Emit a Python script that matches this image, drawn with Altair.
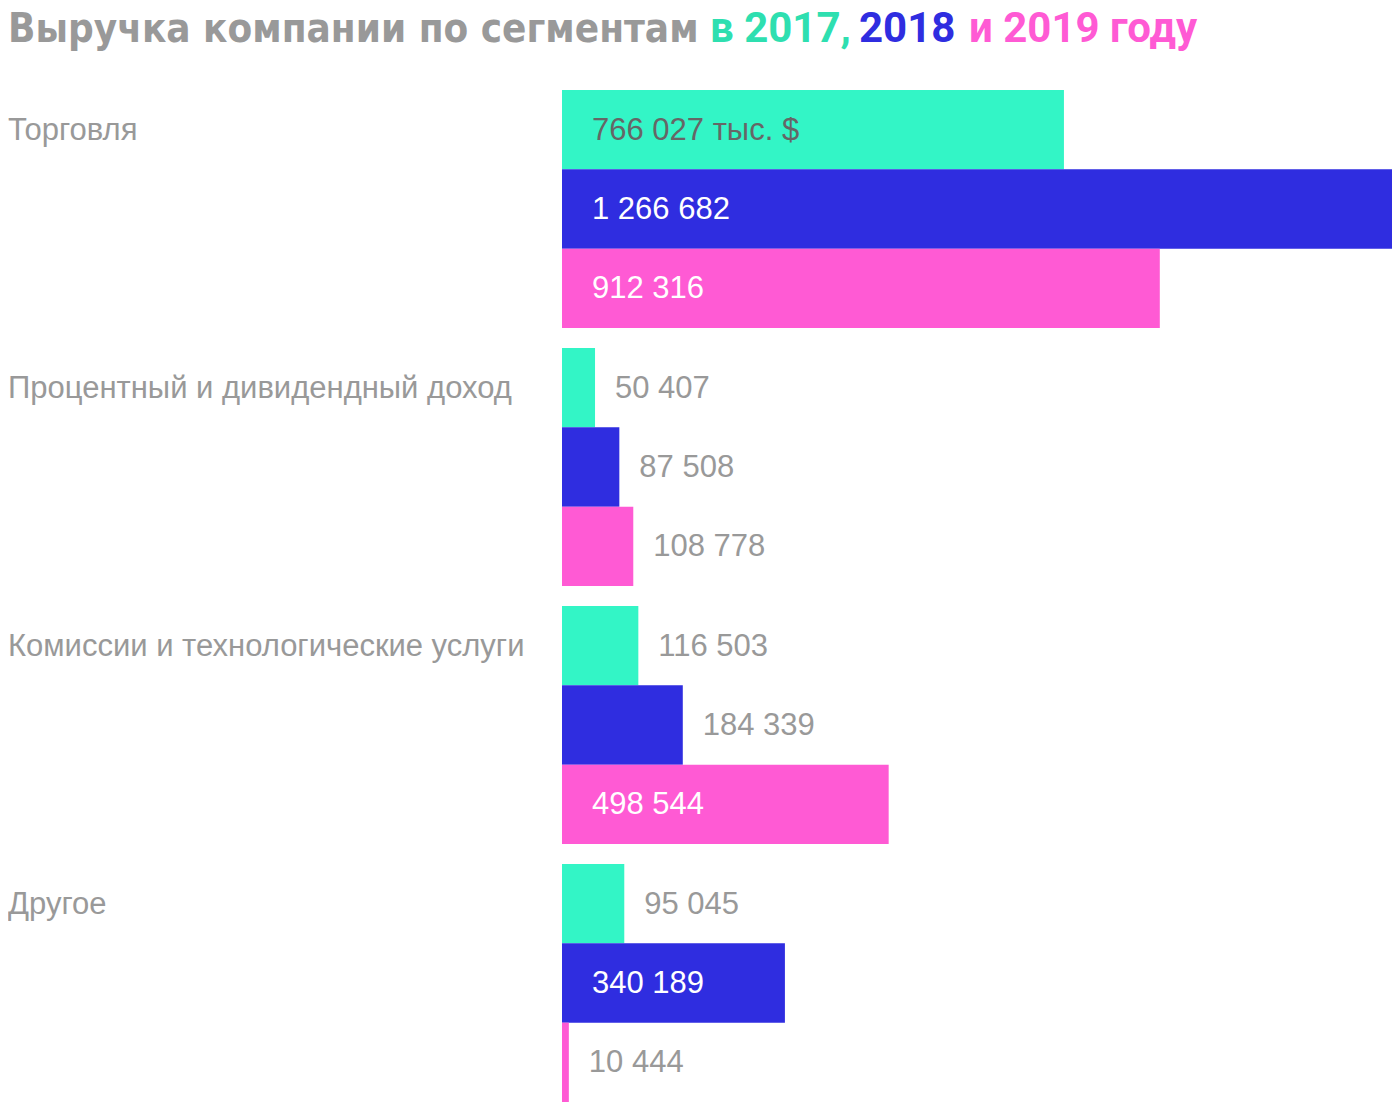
import altair as alt
import pandas as pd

categories = ["Торговля", "Процентный и дивидендный доход",
              "Комиссии и технологические услуги", "Другое"]
years = ["2017", "2018", "2019"]
v2017 = [766027, 50407, 116503, 95045]
v2018 = [1266682, 87508, 184339, 340189]
v2019 = [912316, 108778, 498544, 10444]
colors = ["#33F5C6", "#2F2DE0", "#FF5AD4"]

rows = []
for i, c in enumerate(categories):
    for y, vals in zip(years, [v2017, v2018, v2019]):
        v = vals[i]
        lab = f"{v:,}".replace(",", " ")
        if i == 0 and y == "2017":
            lab += " тыс. $"
        rows.append({"category": c, "year": y, "value": v, "label": lab})
df = pd.DataFrame(rows)
cat_df = pd.DataFrame({"category": categories, "year": ["2017"] * 4})

FONT = "Liberation Sans"
FS = 31
YS = alt.Y("category:N", sort=categories, axis=None,
           scale=alt.Scale(paddingInner=20 / 260, paddingOuter=0))
YO = alt.YOffset("year:N", sort=years, scale=alt.Scale(paddingInner=0, paddingOuter=0))
XS = alt.X("value:Q", axis=None, scale=alt.Scale(domain=[0, 1266682], nice=False, zero=True))

bars = alt.Chart(df).mark_bar(cornerRadius=0).encode(
    x=XS, y=YS, yOffset=YO,
    color=alt.Color("year:N", scale=alt.Scale(domain=years, range=colors), legend=None),
)

inside = alt.Chart(df).transform_filter("datum.value > 300000").transform_calculate(
    lc="datum.year == '2017' ? '#666666' : '#ffffff'"
).mark_text(align="left", baseline="middle", fontSize=FS, font=FONT, dy=1).encode(
    x=alt.value(30), y=YS, yOffset=YO, text="label:N",
    color=alt.Color("lc:N", scale=None),
)

outside = alt.Chart(df).transform_filter("datum.value <= 300000").mark_text(
    align="left", baseline="middle", fontSize=FS, font=FONT, dx=20, dy=1, color="#999999"
).encode(x=XS, y=YS, yOffset=YO, text="label:N")

cat_labels = alt.Chart(cat_df).mark_text(
    align="left", baseline="middle", fontSize=FS, font=FONT, dy=1, color="#999999"
).encode(x=alt.value(-554), y=YS, yOffset=YO, text="category:N")

one = pd.DataFrame({"a": [0]})
TY = -48
t1 = alt.Chart(one).mark_text(text="Выручка компании по сегментам", align="left",
                              baseline="alphabetic", fontSize=40, fontWeight="bold",
                              font="DejaVu Sans Condensed", color="#999999"
                              ).encode(x=alt.value(-554), y=alt.value(TY))
t2 = alt.Chart(one).mark_text(text="в 2017,", align="left", baseline="alphabetic",
                              fontSize=42, fontWeight="bold", font="Roboto", color="#2EDFB0"
                              ).encode(x=alt.value(710 - 562), y=alt.value(TY))
t3 = alt.Chart(one).mark_text(text="2018", align="left", baseline="alphabetic",
                              fontSize=42, fontWeight="bold", font="Roboto", color="#2F2DE0"
                              ).encode(x=alt.value(859 - 562), y=alt.value(TY))
t4 = alt.Chart(one).mark_text(text="и 2019 году", align="left", baseline="alphabetic",
                              fontSize=42, fontWeight="bold", font="Roboto", color="#FF5AD4"
                              ).encode(x=alt.value(969 - 562), y=alt.value(TY))

chart = alt.layer(bars, inside, outside, cat_labels, t1, t2, t3, t4).properties(
    width=830, height=1012,
    padding={"left": 554, "top": 82, "right": 0, "bottom": 0},
    autosize="none",
).configure_view(stroke=None)

chart.save("out.html", embed_options={"renderer": "svg", "actions": False})
